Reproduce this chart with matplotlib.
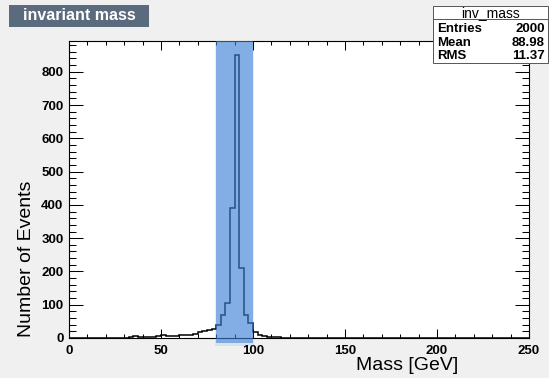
import matplotlib.pyplot as plt
from matplotlib.patches import Rectangle
import matplotlib.transforms as mtransforms
import numpy as np

plt.rcParams['font.family'] = ['Liberation Sans', 'DejaVu Sans']

# histogram: 100 bins of 2.5 GeV from 0 to 250
bin_lo = 0.0
bin_hi = 250.0
n_bins = 100
counts = [0] * n_bins
# bins, keyed by lower edge in GeV
filled = {
    32.5: 2, 35.0: 5, 37.5: 3, 40.0: 4, 42.5: 4, 45.0: 3, 47.5: 6,
    50.0: 8, 52.5: 6, 55.0: 7, 57.5: 7, 60.0: 8, 62.5: 9, 65.0: 10,
    67.5: 12, 70.0: 18, 72.5: 22, 75.0: 24, 77.5: 28,
    80.0: 39, 82.5: 69, 85.0: 105, 87.5: 391, 90.0: 850, 92.5: 210,
    95.0: 69, 97.5: 45, 100.0: 17, 102.5: 10, 105.0: 7, 107.5: 4,
    110.0: 3, 112.5: 2, 115.0: 1, 117.5: 1,
}
bin_width = (bin_hi - bin_lo) / n_bins
for lo, v in filled.items():
    counts[int(round((lo - bin_lo) / bin_width))] = v
edges = np.linspace(bin_lo, bin_hi, n_bins + 1)

band = (80, 100)
stats_labels = ['Entries', 'Mean', 'RMS']
stats_values = ['2000', '88.98', '11.37']

W, H = 549, 378
fig = plt.figure(figsize=(W / 100, H / 100), dpi=100, facecolor='#f0f0f0')
ax = fig.add_axes([69 / W, 1 - 338 / H, (529 - 69) / W, (338 - 41) / H])
ax.set_facecolor('white')

ax.stairs(counts, edges, color='black', lw=1.1, zorder=2)

ax.set_xlim(bin_lo, bin_hi)
ax.set_ylim(0, max(counts) * 1.05)

# highlighted band with a soft edge
trans = mtransforms.blended_transform_factory(ax.transData, ax.transAxes)
ax.add_patch(Rectangle((band[0] - 0.8, -0.028), band[1] - band[0] + 1.6, 1.028,
                       transform=trans, color='#3a80d6', alpha=0.12, lw=0,
                       clip_on=False, zorder=3))
ax.add_patch(Rectangle((band[0], -0.017), band[1] - band[0], 1.017,
                       transform=trans, color='#3a80d6', alpha=0.58, lw=0,
                       clip_on=False, zorder=3))

ax.set_xticks(np.arange(0, 251, 50))
ax.set_xticks(np.arange(0, 251, 10), minor=True)
ax.set_yticks(np.arange(0, 801, 100))
ax.set_yticks(np.arange(0, 881, 20), minor=True)
ax.tick_params(which='both', direction='in', top=True, right=True, width=0.75)
ax.tick_params(axis='x', which='major', length=6.5, pad=5)
ax.tick_params(axis='x', which='minor', length=3.2)
ax.tick_params(axis='y', which='major', length=10, pad=4)
ax.tick_params(axis='y', which='minor', length=5)
for lab in ax.get_xticklabels() + ax.get_yticklabels():
    lab.set_fontweight('bold')
    lab.set_fontsize(9.5)
for sp in ax.spines.values():
    sp.set_linewidth(0.8)

fig.text(458 / W, 1 - 366 / H, 'Mass [GeV]', ha='right', va='center', fontsize=14)
fig.text(27 / W, 1 - 337 / H, 'Number of Events', rotation=90, ha='center',
         va='bottom', fontsize=14)

# title box
fig.patches.append(Rectangle((9 / W, 1 - 27 / H), 140 / W, 22 / H,
                             transform=fig.transFigure, color='#5b6b7e', lw=0))
fig.text(79 / W, 1 - 16 / H, 'invariant mass', ha='center', va='center',
         color='white', fontsize=11.5, fontweight='bold')

# stats box
bx0, bx1, by0, by1 = 433, 548, 6, 63
fig.patches.append(Rectangle((bx0 / W, 1 - by1 / H), (bx1 - bx0) / W, (by1 - by0) / H,
                             transform=fig.transFigure, facecolor='white',
                             edgecolor='#555555', lw=0.7, zorder=5))
fig.add_artist(plt.Line2D([bx0 / W, bx1 / W], [1 - 19 / H, 1 - 19 / H],
                          transform=fig.transFigure, color='#555555', lw=0.7, zorder=6))
fig.text((bx0 + bx1) / 2 / W, 1 - 13 / H, 'inv_mass', ha='center', va='center',
         fontsize=10, zorder=7)
for i, (lab, val) in enumerate(zip(stats_labels, stats_values)):
    yy = 1 - (29 + 13.5 * i) / H
    fig.text(437 / W, yy, lab, ha='left', va='center', fontsize=9.5,
             fontweight='bold', zorder=7)
    fig.text(545 / W, yy, val, ha='right', va='center', fontsize=9.5,
             fontweight='bold', zorder=7)

fig.savefig('out.png', dpi=100, facecolor=fig.get_facecolor())
